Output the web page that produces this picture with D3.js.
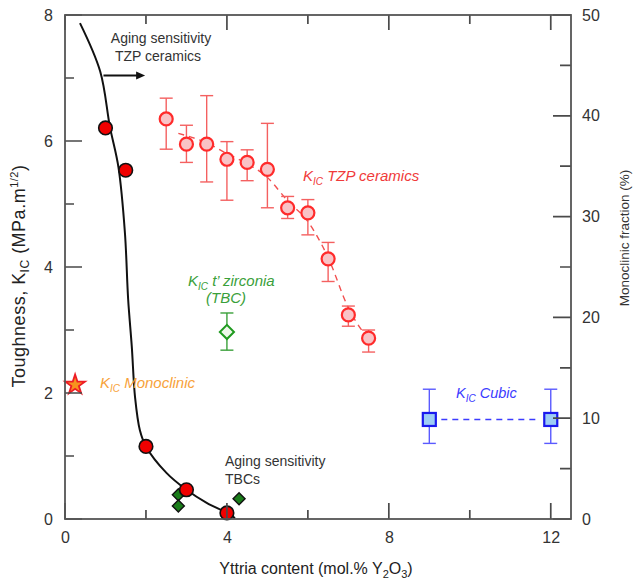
<!DOCTYPE html>
<html>
<head>
<meta charset="utf-8">
<script src="https://cdn.jsdelivr.net/npm/d3@7"></script>
<style>
  body { margin: 0; background: #fff; }
  svg { display: block; font-family: "Liberation Sans", Arial, sans-serif; }
</style>
</head>
<body>
<svg id="chart" width="633" height="582"></svg>
<script>
// Yttria content (mol.% Y2O3) of each sample group
const tzpYttria    = [2.5, 3.0, 3.5, 4.0, 4.5, 5.0, 5.5, 6.0, 6.5, 7.0, 7.5];
// Toughness K_IC of TZP ceramics (MPa.m^1/2) with error bar limits
const tzpToughness = [6.35, 5.95, 5.95, 5.71, 5.66, 5.55, 4.94, 4.86, 4.13, 3.24, 2.87];
const tzpHigh      = [6.68, 6.25, 6.72, 5.99, 5.86, 6.28, 5.12, 5.07, 4.39, 3.38, 3.00];
const tzpLow       = [5.87, 5.66, 5.35, 5.06, 5.37, 4.94, 4.77, 4.51, 3.77, 3.06, 2.65];
// Dashed trend through the TZP toughness values
const tzpTrendX    = [2.8, 3.5, 4.0, 4.5, 5.0, 5.5, 6.0, 6.5, 7.0, 7.5];
const tzpTrendY    = [6.12, 5.97, 5.80, 5.64, 5.42, 5.05, 4.72, 4.15, 3.35, 2.85];

// t' zirconia (TBC) toughness
const tbcYttria    = [4.0];
const tbcToughness = [2.97];
const tbcHigh      = [3.27];
const tbcLow       = [2.68];

// Cubic zirconia toughness
const cubicYttria    = [9, 12];
const cubicToughness = [1.58, 1.58];
const cubicHigh      = [2.06, 2.06];
const cubicLow       = [1.20, 1.20];

// Monoclinic zirconia toughness
const monoYttria    = [0.25];
const monoToughness = [2.13];

// Monoclinic fraction (%) after aging: TZP ceramics
const agedTzpYttria   = [1.0, 1.5, 2.0, 3.0, 4.0];
const agedTzpFraction = [38.8, 34.6, 7.2, 2.9, 0.6];
// Monoclinic fraction (%) after aging: TBCs
const agedTbcYttria   = [2.8, 2.8, 4.3];
const agedTbcFraction = [2.4, 1.3, 2.0];
// Aging sensitivity boundary (monoclinic fraction, %)
const boundaryX = [0.37, 0.87, 1.11, 1.32, 1.48, 1.56, 1.65, 1.73, 1.85, 2.0, 2.5, 3.0, 3.5, 4.0, 4.2];
const boundaryY = [49.2, 44.4, 38.9, 34.9, 28.4, 21.8, 17.1, 12.1, 8.8, 7.2, 4.6, 2.9, 1.6, 0.6, 0.1];

// Axis ticks
const xMajorTicks = [0, 4, 8, 12];
const xMinorTicks = [2, 6, 10];
const yMajorTicks = [0, 2, 4, 6, 8];
const yMinorTicks = [1, 3, 5, 7];
const rMajorTicks = [0, 10, 20, 30, 40, 50];
const rMinorTicks = [5, 15, 25, 35, 45];

const svg = d3.select("#chart");
const plotLeft = 65, plotRight = 571, plotTop = 15, plotBottom = 519;

const x  = d3.scaleLinear().domain([0, 12.5]).range([plotLeft, plotRight]);
const yL = d3.scaleLinear().domain([0, 8]).range([plotBottom, plotTop]);
const yR = d3.scaleLinear().domain([0, 50]).range([plotBottom, plotTop]);

const axisColor = "#555";

// ---- axis labels ----
function styleAxis(g) {
  g.select(".domain").remove();
  g.selectAll(".tick line").remove();
  g.selectAll(".tick text").attr("fill", "#333").attr("font-size", 16)
    .attr("font-family", "Liberation Sans, Arial, sans-serif");
}
svg.append("g").attr("transform", `translate(0,${plotBottom})`)
  .call(d3.axisBottom(x).tickValues(xMajorTicks).tickSize(0).tickPadding(13).tickFormat(d3.format("d")))
  .call(styleAxis);
svg.append("g").attr("transform", `translate(${plotLeft},0)`)
  .call(d3.axisLeft(yL).tickValues(yMajorTicks).tickSize(0).tickPadding(12).tickFormat(d3.format("d")))
  .call(styleAxis);
svg.append("g").attr("transform", `translate(${plotRight},0)`)
  .call(d3.axisRight(yR).tickValues(rMajorTicks).tickSize(0).tickPadding(11).tickFormat(d3.format("d")))
  .call(styleAxis);

// ---- axis titles ----
const xTitle = svg.append("text").attr("x", 316).attr("y", 574)
  .attr("text-anchor", "middle").attr("font-size", 16).attr("fill", "#222");
xTitle.append("tspan").text("Yttria content (mol.% Y");
xTitle.append("tspan").attr("font-size", 11).attr("dy", 4).text("2");
xTitle.append("tspan").attr("dy", -4).text("O");
xTitle.append("tspan").attr("font-size", 11).attr("dy", 4).text("3");
xTitle.append("tspan").attr("dy", -4).text(")");

const yTitle = svg.append("text")
  .attr("transform", "translate(25,276) rotate(-90)")
  .attr("text-anchor", "middle").attr("font-size", 18).attr("letter-spacing", 0.5).attr("fill", "#222");
yTitle.append("tspan").text("Toughness, K");
yTitle.append("tspan").attr("font-size", 12).attr("dy", 4).text("IC");
yTitle.append("tspan").attr("dy", -4).text(" (MPa.m");
yTitle.append("tspan").attr("font-size", 11).attr("dy", -7).text("1/2");
yTitle.append("tspan").attr("dy", 7).text(")");

svg.append("text")
  .attr("transform", "translate(629,238) rotate(-90)")
  .attr("text-anchor", "middle").attr("font-size", 13.5).attr("fill", "#333")
  .text("Monoclinic fraction (%)");

// ---- aging sensitivity boundary ----
const boundary = d3.range(boundaryX.length).map(i => [boundaryX[i], boundaryY[i]]);
svg.append("path").datum(boundary)
  .attr("d", d3.line().x(d => x(d[0])).y(d => yR(d[1])).curve(d3.curveCatmullRom.alpha(0.5)))
  .attr("fill", "none").attr("stroke", "#111").attr("stroke-width", 2);

// arrow + label for TZP aging sensitivity
const arrowY = yL(7.04);
svg.append("line")
  .attr("x1", x(0.95)).attr("x2", x(1.98) - 8).attr("y1", arrowY).attr("y2", arrowY)
  .attr("stroke", "#111").attr("stroke-width", 1.8);
svg.append("path")
  .attr("d", `M${x(1.98)},${arrowY} l-9,-4 l0,8 z`)
  .attr("fill", "#111");
svg.append("text").attr("x", 161).attr("y", 43).attr("text-anchor", "middle")
  .attr("font-size", 14).attr("fill", "#333").text("Aging sensitivity");
svg.append("text").attr("x", 158).attr("y", 61).attr("text-anchor", "middle")
  .attr("font-size", 14).attr("fill", "#333").text("TZP ceramics");

svg.append("text").attr("x", 225).attr("y", 466)
  .attr("font-size", 14).attr("fill", "#333").text("Aging sensitivity");
svg.append("text").attr("x", 225).attr("y", 484)
  .attr("font-size", 14).attr("fill", "#333").text("TBCs");

// ---- error bars helper ----
function errorBars(xs, lows, highs, color, cap) {
  const g = svg.append("g").attr("stroke", color).attr("stroke-width", 1.4);
  xs.forEach((xv, i) => {
    g.append("line").attr("x1", x(xv)).attr("x2", x(xv)).attr("y1", yL(lows[i])).attr("y2", yL(highs[i]));
    g.append("line").attr("x1", x(xv) - cap).attr("x2", x(xv) + cap).attr("y1", yL(lows[i])).attr("y2", yL(lows[i]));
    g.append("line").attr("x1", x(xv) - cap).attr("x2", x(xv) + cap).attr("y1", yL(highs[i])).attr("y2", yL(highs[i]));
  });
}

// ---- TZP ceramics toughness ----
const tzpRed = "#ff2b2b";
const trend = d3.range(tzpTrendX.length).map(i => [tzpTrendX[i], tzpTrendY[i]]);
svg.append("path").datum(trend)
  .attr("d", d3.line().x(d => x(d[0])).y(d => yL(d[1])).curve(d3.curveMonotoneX))
  .attr("fill", "none").attr("stroke", "#f25050").attr("stroke-width", 1.4)
  .attr("stroke-dasharray", "6,5");
errorBars(tzpYttria, tzpLow, tzpHigh, "#f46060", 6.5);
svg.append("g").selectAll("circle").data(tzpYttria).join("circle")
  .attr("cx", d => x(d)).attr("cy", (d, i) => yL(tzpToughness[i])).attr("r", 6.5)
  .attr("fill", "#f9c3c6").attr("stroke", tzpRed).attr("stroke-width", 2.2);

const tzpLabel = svg.append("text").attr("x", 303).attr("y", 181)
  .attr("font-size", 15).attr("font-style", "italic").attr("fill", "#f03a3a");
tzpLabel.append("tspan").text("K");
tzpLabel.append("tspan").attr("font-size", 10).attr("dy", 4).text("IC");
tzpLabel.append("tspan").attr("dy", -4).text(" TZP ceramics");

// ---- t' zirconia (TBC) ----
errorBars(tbcYttria, tbcLow, tbcHigh, "#3aa03a", 6.5);
svg.append("g").selectAll("path").data(tbcYttria).join("path")
  .attr("d", d3.symbol(d3.symbolSquare, 100))
  .attr("transform", (d, i) => `translate(${x(d)},${yL(tbcToughness[i])}) rotate(45)`)
  .attr("fill", "#eef8ea").attr("stroke", "#1f9a1f").attr("stroke-width", 2);
const tbcLabel = svg.append("text").attr("x", 188).attr("y", 286)
  .attr("font-size", 15).attr("font-style", "italic").attr("fill", "#3aa03a");
tbcLabel.append("tspan").text("K");
tbcLabel.append("tspan").attr("font-size", 10).attr("dy", 4).text("IC");
tbcLabel.append("tspan").attr("dy", -4).text(" t’ zirconia");
svg.append("text").attr("x", 226).attr("y", 303)
  .attr("text-anchor", "middle").attr("font-size", 15).attr("font-style", "italic").attr("fill", "#3aa03a")
  .text("(TBC)");

// ---- cubic zirconia ----
svg.append("line")
  .attr("x1", x(cubicYttria[0]) + 12).attr("x2", x(cubicYttria[1]) - 12)
  .attr("y1", yL(cubicToughness[0])).attr("y2", yL(cubicToughness[1]))
  .attr("stroke", "#3c3cff").attr("stroke-width", 1.4).attr("stroke-dasharray", "6,5");
errorBars(cubicYttria, cubicLow, cubicHigh, "#5a5aff", 6.5);
svg.append("g").selectAll("rect").data(cubicYttria).join("rect")
  .attr("x", d => x(d) - 6.5).attr("y", (d, i) => yL(cubicToughness[i]) - 6.5)
  .attr("width", 13).attr("height", 13)
  .attr("fill", "#9dcdf5").attr("stroke", "#1a1aee").attr("stroke-width", 2.2);
const cubicLabel = svg.append("text").attr("x", 456).attr("y", 398)
  .attr("font-size", 14.5).attr("font-style", "italic").attr("fill", "#3b3bff");
cubicLabel.append("tspan").text("K");
cubicLabel.append("tspan").attr("font-size", 10).attr("dy", 4).text("IC");
cubicLabel.append("tspan").attr("dy", -4).text(" Cubic");

// ---- monoclinic zirconia ----
svg.append("g").selectAll("path").data(monoYttria).join("path")
  .attr("d", d3.symbol(d3.symbolStar, 120))
  .attr("transform", (d, i) => `translate(${x(d)},${yL(monoToughness[i])})`)
  .attr("fill", "#f7941d").attr("stroke", "#ee1c25").attr("stroke-width", 1.8);
const monoLabel = svg.append("text").attr("x", 100).attr("y", 388)
  .attr("font-size", 15).attr("font-style", "italic").attr("fill", "#f7a23a");
monoLabel.append("tspan").text("K");
monoLabel.append("tspan").attr("font-size", 10).attr("dy", 4).text("IC");
monoLabel.append("tspan").attr("dy", -4).text(" Monoclinic");

// ---- monoclinic fraction after aging ----
svg.append("g").selectAll("path").data(agedTbcYttria).join("path")
  .attr("d", d3.symbol(d3.symbolSquare, 72))
  .attr("transform", (d, i) => `translate(${x(d)},${yR(agedTbcFraction[i])}) rotate(45)`)
  .attr("fill", "#1a7d1a").attr("stroke", "#111").attr("stroke-width", 1.4);
svg.append("g").selectAll("circle").data(agedTzpYttria).join("circle")
  .attr("cx", d => x(d)).attr("cy", (d, i) => yR(agedTzpFraction[i])).attr("r", 6.8)
  .attr("fill", "#f00000").attr("stroke", "#111").attr("stroke-width", 1.6);

// ---- frame and inward tick marks, drawn as one path ----
const tp = d3.path();
const addV = (vals, y0, len) => vals.forEach(v => { tp.moveTo(x(v), y0); tp.lineTo(x(v), y0 + len); });
const addH = (vals, scale, x0, len) => vals.forEach(v => { tp.moveTo(x0, scale(v)); tp.lineTo(x0 + len, scale(v)); });
addV(xMajorTicks, plotBottom, -16);
addV(xMinorTicks, plotBottom, -9);
addV(xMajorTicks, plotTop, 15);
addV(xMinorTicks, plotTop, 9);
addH(yMajorTicks, yL, plotLeft, 17);
addH(yMinorTicks, yL, plotLeft, 9);
addH(rMajorTicks, yR, plotRight, -18);
addH(rMinorTicks, yR, plotRight, -11);
svg.append("path").attr("d", tp.toString())
  .attr("fill", "none").attr("stroke", "#4a4a4a").attr("stroke-width", 1.7);

svg.append("rect").attr("x", plotLeft).attr("y", plotTop)
  .attr("width", plotRight - plotLeft).attr("height", plotBottom - plotTop)
  .attr("fill", "none").attr("stroke", axisColor).attr("stroke-width", 1.8);
</script>
</body>
</html>
